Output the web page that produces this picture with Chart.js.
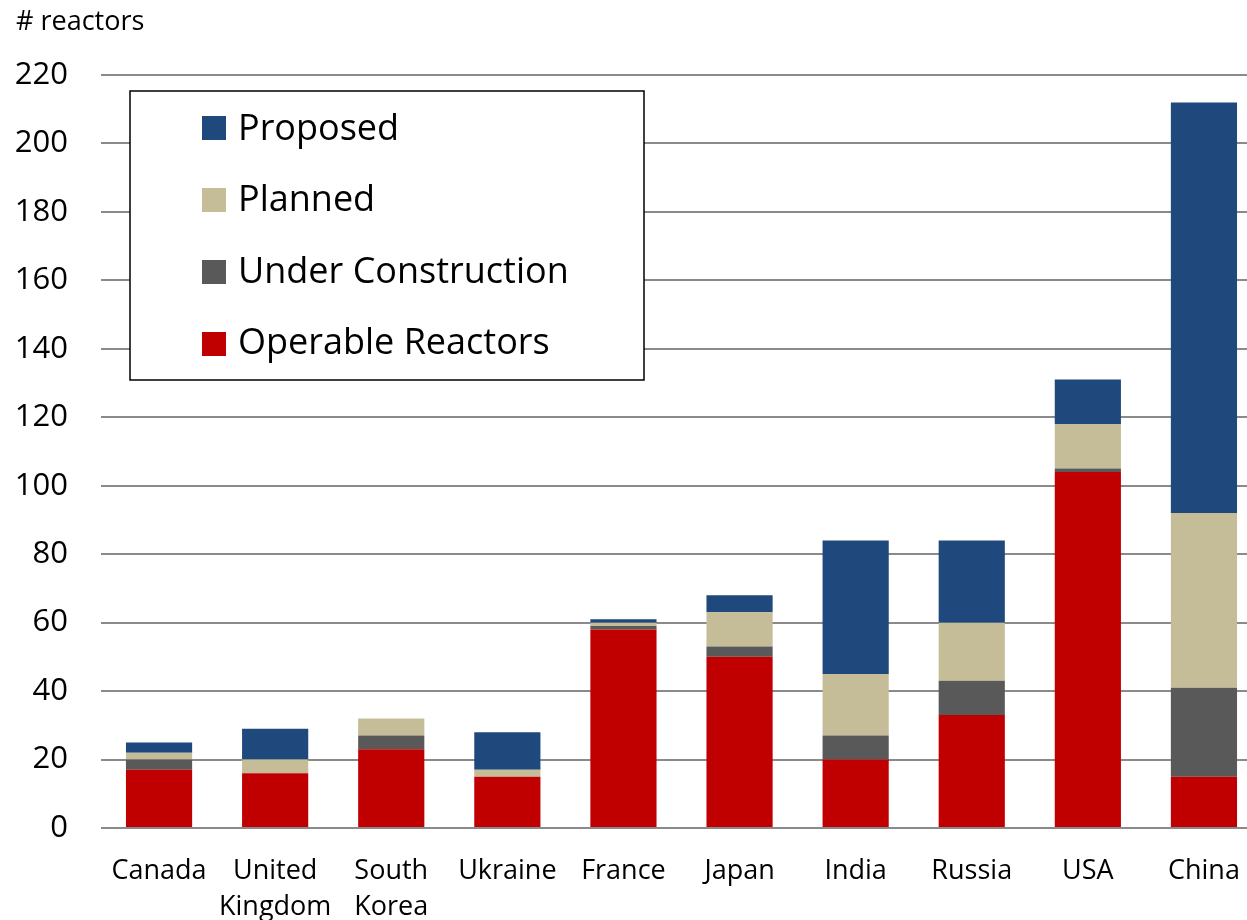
<!DOCTYPE html>
<html>
    <head>
        <title>Reactores por pais</title>
        <meta charset="UTF-8">
        <style>
            html, body { margin: 0; padding: 0; overflow: hidden; background: white; }
            #chart-holder { width: 1247px; height: 920px; overflow: hidden; }
        </style>
    </head>
    <body>
        <div id="chart-holder">
            <canvas id="grafica-reactores" width="1262" height="920"></canvas>
        </div>

        <script src="https://cdn.jsdelivr.net/npm/chart.js@4"></script>
        <script>
            var paises = ["Canada", ["United", "Kingdom"], ["South", "Korea"], "Ukraine", "France", "Japan", "India", "Russia", "USA", "China"];
            var operables    = [17, 16, 23, 15, 58, 50, 20, 33, 104, 15];
            var construccion = [3, 0, 4, 0, 1, 3, 7, 10, 1, 26];
            var planeados    = [2, 4, 5, 2, 1, 10, 18, 17, 13, 51];
            var propuestos   = [3, 9, 0, 11, 1, 5, 39, 24, 13, 120];
            var ticksY = [0, 20, 40, 60, 80, 100, 120, 140, 160, 180, 200, 220];

            var fuente = "'Open Sans', sans-serif";

            // leyenda dibujada a mano dentro del area
            var leyendaCaja = {
                id: "leyendaCaja",
                afterDraw: function (c) {
                    var ctx = c.ctx;
                    ctx.save();
                    ctx.fillStyle = "white";
                    ctx.fillRect(130, 91, 514, 289);
                    ctx.strokeStyle = "black";
                    ctx.lineWidth = 1.5;
                    ctx.strokeRect(130, 91, 514, 289);
                    var sets = c.data.datasets.slice().reverse();
                    ctx.font = "36px " + fuente;
                    ctx.textBaseline = "alphabetic";
                    for (var i = 0; i < sets.length; i++) {
                        ctx.fillStyle = sets[i].backgroundColor;
                        ctx.fillRect(202, 116 + i * 72, 24, 24);
                        ctx.fillStyle = "black";
                        ctx.fillText(sets[i].label, 238, 140 + i * 71.3);
                    }
                    // titulo del eje
                    ctx.font = "27px " + fuente;
                    ctx.textBaseline = "middle";
                    ctx.fillText("# reactors", 16, 22);
                    ctx.restore();
                }
            };

            var ctxChart = document.getElementById("grafica-reactores").getContext("2d");
            new Chart(ctxChart, {
                type: "bar",
                data: {
                    labels: paises,
                    datasets: [
                        { label: "Operable Reactors", data: operables, backgroundColor: "#C00000" },
                        { label: "Under Construction", data: construccion, backgroundColor: "#595959" },
                        { label: "Planned", data: planeados, backgroundColor: "#C4BD97" },
                        { label: "Proposed", data: propuestos, backgroundColor: "#1F497D" }
                    ]
                },
                options: {
                    responsive: false,
                    animation: false,
                    categoryPercentage: 1,
                    barPercentage: 0.57,
                    layout: { padding: { top: 75, left: 0, right: 0, bottom: 0 } },
                    plugins: { legend: { display: false }, tooltip: { enabled: false } },
                    scales: {
                        x: {
                            stacked: true,
                            grid: { display: false },
                            border: { display: false },
                            ticks: { color: "black", font: { family: fuente, size: 27, lineHeight: 1.35 }, padding: 17, maxRotation: 0, autoSkip: false },
                            afterFit: function (s) { s.height = 92; }
                        },
                        y: {
                            stacked: true,
                            min: 0,
                            max: 220,
                            afterBuildTicks: function (s) { s.ticks = ticksY.map(function (v) { return { value: v }; }); },
                            grid: { color: "#8a8a8a", lineWidth: 2, drawTicks: false },
                            border: { display: false },
                            ticks: { color: "black", font: { family: fuente, size: 31 }, padding: 33 },
                            afterFit: function (s) { s.width = 101; }
                        }
                    }
                },
                plugins: [leyendaCaja]
            });
        </script>
    </body>
</html>
